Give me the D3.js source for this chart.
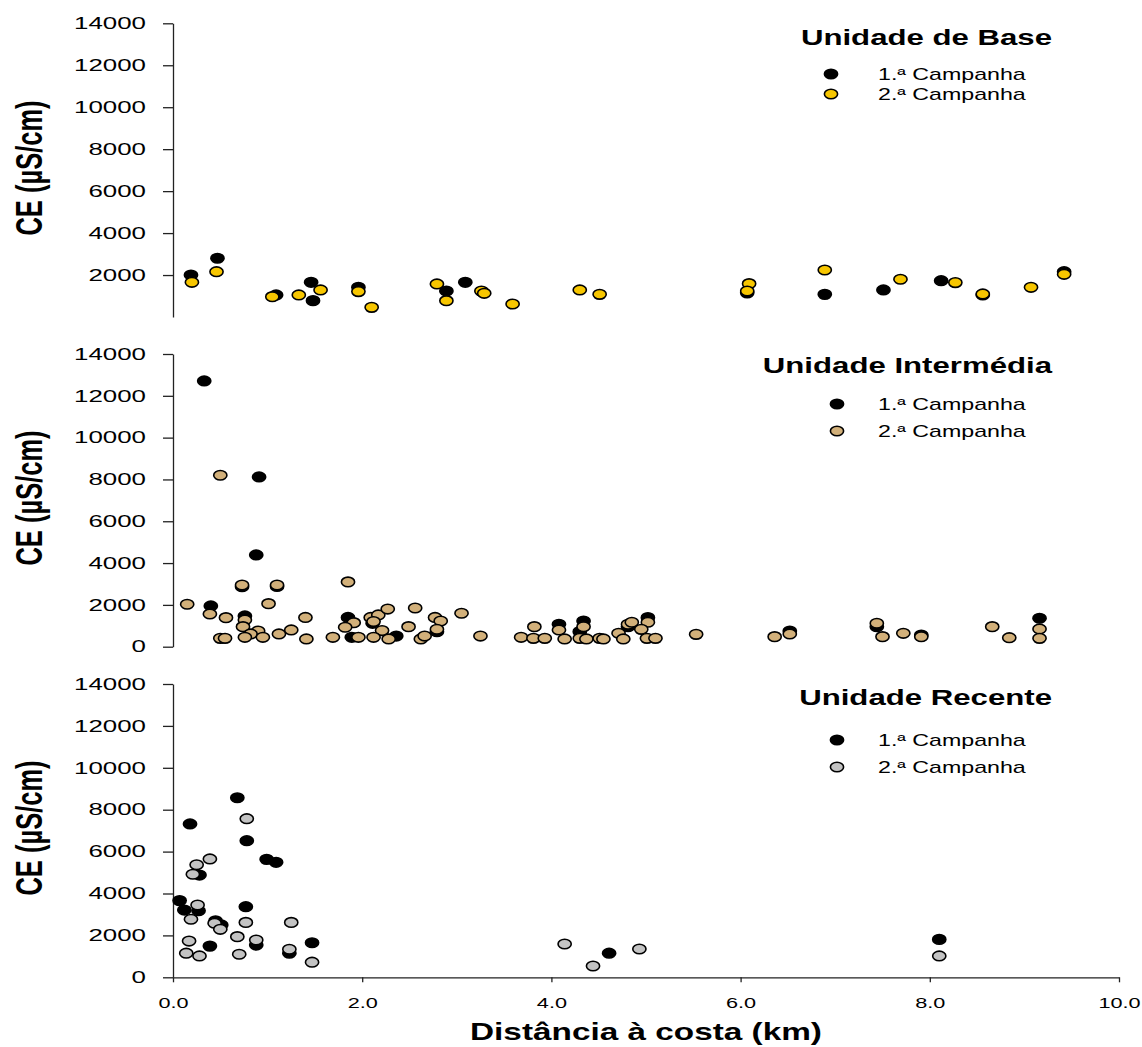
<!DOCTYPE html>
<html>
<head>
<meta charset="utf-8">
<script src="https://cdn.jsdelivr.net/npm/d3@7"></script>
<style>
  body { margin: 0; background: #fff; }
  text { font-family: Arial, "Liberation Sans", sans-serif; fill: #000; }
</style>
</head>
<body>
<svg id="chart" width="1142" height="1047"></svg>
<script>
// Electrical conductivity (µS/cm) against distance to the coast (km), per aquifer unit.
// Each entry: [distance km, CE µS/cm]

// Unidade de Base
const baseCamp1 = [
  [0.19, 2000], [0.47, 2800], [1.09, 1050], [1.46, 1655], [1.48, 780], [1.96, 1415],
  [2.89, 1240], [3.09, 1655], [3.27, 1200], [6.07, 1150], [6.89, 1080], [7.51, 1290],
  [8.12, 1730], [8.56, 1050], [9.42, 2160]
];
const baseCamp2 = [
  [0.20, 1655], [0.46, 2160], [1.05, 970], [1.33, 1050], [1.56, 1290], [1.96, 1210],
  [2.10, 460], [2.79, 1575], [2.89, 780], [3.26, 1240], [3.29, 1130], [3.59, 620],
  [4.30, 1290], [4.51, 1080], [6.09, 1590], [6.07, 1240], [6.89, 2240], [7.69, 1800],
  [8.27, 1640], [8.56, 1100], [9.07, 1415], [9.42, 2035]
];

// Unidade Intermédia
const intermCamp1 = [
  [0.33, 12710], [0.91, 8120], [0.88, 4390], [0.40, 1950], [0.73, 2870], [0.76, 1470],
  [1.10, 2880], [1.85, 1400], [1.89, 450], [2.11, 1120], [2.36, 510], [2.79, 720],
  [4.08, 1070], [4.34, 1230], [4.30, 720], [4.81, 960], [5.02, 1390], [6.52, 750],
  [7.44, 960], [7.91, 560], [9.16, 1360]
];
const intermCamp2 = [
  [0.15, 2030], [0.39, 1565], [0.50, 8200], [0.56, 1390], [0.50, 400], [0.55, 400],
  [0.73, 2950], [0.76, 1280], [0.74, 960], [0.90, 750], [0.82, 610], [0.76, 450],
  [0.95, 450], [1.10, 2950], [1.01, 2060], [1.12, 610], [1.25, 800], [1.40, 1400],
  [1.41, 370], [1.85, 3100], [1.69, 450], [1.91, 1150], [1.82, 930], [1.96, 450],
  [2.09, 1400], [2.17, 1520], [2.27, 1800], [2.12, 1200], [2.21, 770], [2.12, 450],
  [2.28, 370], [2.49, 960], [2.56, 1850], [2.62, 370], [2.66, 510], [2.77, 1400],
  [2.83, 1230], [2.79, 830], [3.05, 1600], [3.25, 510], [3.68, 450], [3.82, 960],
  [3.81, 400], [3.93, 400], [4.08, 800], [4.14, 370], [4.34, 960], [4.30, 400],
  [4.37, 370], [4.51, 400], [4.55, 370], [4.71, 640], [4.76, 370], [4.81, 1070],
  [4.85, 1170], [5.02, 1170], [4.95, 830], [5.01, 400], [5.10, 400], [5.53, 590],
  [6.36, 480], [6.52, 610], [7.44, 1120], [7.50, 480], [7.72, 640], [7.91, 480],
  [8.66, 960], [8.84, 430], [9.16, 850], [9.16, 400]
];

// Unidade Recente
const recCamp1 = [
  [0.68, 8570], [0.18, 7320], [0.78, 6520], [0.99, 5630], [1.09, 5490], [0.28, 4880],
  [0.07, 3660], [0.12, 3210], [0.27, 3180], [0.77, 3370], [0.45, 2700], [0.51, 2500],
  [0.39, 1490], [0.88, 1540], [1.23, 1150], [1.47, 1650], [4.61, 1150], [8.10, 1810]
];
const recCamp2 = [
  [0.78, 7570], [0.39, 5650], [0.25, 5370], [0.21, 4920], [0.26, 3450], [0.19, 2770],
  [0.44, 2580], [0.50, 2290], [0.77, 2620], [1.25, 2620], [0.17, 1730], [0.68, 1940],
  [0.88, 1780], [0.14, 1150], [0.28, 1020], [0.70, 1100], [1.23, 1340], [1.47, 720],
  [4.14, 1590], [4.44, 540], [4.93, 1350], [8.10, 1020]
];

const xTickValues = [0, 2, 4, 6, 8, 10];
const yTickValuesBase = [2000, 4000, 6000, 8000, 10000, 12000, 14000];
const yTickValuesFull = [0, 2000, 4000, 6000, 8000, 10000, 12000, 14000];
const seriesLabels = ["1.ª Campanha", "2.ª Campanha"];
const yAxisTitle = "CE (µS/cm)";
const xAxisTitle = "Distância à costa (km)";

// ---------------------------------------------------------------------------
const svg = d3.select("#chart");
const SX = 1.45;            // horizontal stretch of the lettering
const SX_YTICK = 1.57;
const SX_XTICK = 1.4;
const RX = 6.6, RY = 4.8;   // marker ellipse radii

const x = d3.scaleLinear().domain([0, 10]).range([173, 1119]);

const panels = [
  { title: "Unidade de Base", top: 23.3, bottom: 317, ticks: yTickValuesBase,
    c1: baseCamp1, c2: baseCamp2, fill2: "#F7C600",
    titleY: 45, legX: 831, legY: [74, 94], labelY: 168 },
  { title: "Unidade Intermédia", top: 354, bottom: 646.7, ticks: yTickValuesFull,
    c1: intermCamp1, c2: intermCamp2, fill2: "#D2B07A",
    titleY: 372.7, legX: 837, legY: [404, 431], labelY: 498 },
  { title: "Unidade Recente", top: 684, bottom: 977.3, ticks: yTickValuesFull,
    c1: recCamp1, c2: recCamp2, fill2: "#C3C3C3",
    titleY: 705, legX: 837, legY: [740, 767], labelY: 828, xAxis: true }
];

function stretched(g, px, py, str, size, weight, anchor) {
  return g.append("text")
    .attr("transform", `translate(${px},${py}) scale(${SX},1)`)
    .attr("text-anchor", anchor)
    .style("font-size", size + "px")
    .style("font-weight", weight)
    .text(str);
}

function marker(sel, fill) {
  sel.attr("rx", RX).attr("ry", RY)
    .attr("fill", fill)
    .attr("stroke", "#000")
    .attr("stroke-width", 1.6);
}

panels.forEach(p => {
  const y = d3.scaleLinear().domain([0, 14000]).range([p.bottom, p.top]);
  const g = svg.append("g");

  // y axis
  const yAxis = g.append("g")
    .attr("transform", `translate(${x(0)},0)`)
    .call(d3.axisLeft(y).tickValues(p.ticks).tickSize(10).tickSizeOuter(0).tickPadding(17)
      .tickFormat(d3.format("d")));
  yAxis.select(".domain").attr("stroke", "#222").attr("stroke-width", 1.3);
  yAxis.selectAll(".tick line").attr("stroke", "#222").attr("stroke-width", 1.3);
  yAxis.selectAll(".tick text")
    .attr("x", -27 / SX_YTICK)
    .attr("transform", `scale(${SX_YTICK},1)`)
    .style("font-size", "16.5px")
    .style("font-family", "Arial, 'Liberation Sans', sans-serif")
    .attr("fill", "#000");

  // x axis on the bottom panel
  if (p.xAxis) {
    const xAxis = g.append("g")
      .attr("transform", `translate(0,${p.bottom})`)
      .call(d3.axisBottom(x).tickValues(xTickValues).tickSize(5).tickSizeOuter(0).tickPadding(15)
        .tickFormat(d3.format(".1f")));
    xAxis.select(".domain").attr("stroke", "#222").attr("stroke-width", 1.3);
    xAxis.selectAll(".tick line").attr("stroke", "#222").attr("stroke-width", 1.3);
    xAxis.selectAll(".tick text")
      .attr("transform", `scale(${SX_XTICK},1)`)
      .style("font-size", "15.5px")
      .style("font-family", "Arial, 'Liberation Sans', sans-serif")
      .attr("fill", "#000");
  }

  // y axis title
  g.append("text")
    .attr("transform", `translate(29,${p.labelY}) scale(${SX},1) rotate(-90)`)
    .attr("text-anchor", "middle")
    .attr("dy", "0.36em")
    .style("font-size", "25.5px")
    .style("font-weight", "bold")
    .text(yAxisTitle);

  // points: first campaign underneath, second on top
  g.append("g").selectAll("ellipse").data(p.c1).join("ellipse")
    .attr("cx", d => x(d[0])).attr("cy", d => y(d[1]))
    .call(marker, "#000");
  g.append("g").selectAll("ellipse").data(p.c2).join("ellipse")
    .attr("cx", d => x(d[0])).attr("cy", d => y(d[1]))
    .call(marker, p.fill2);

  // title and legend
  stretched(g, 1052, p.titleY, p.title, 21.5, "bold", "end");
  [["#000", 0], [p.fill2, 1]].forEach(([fill, i]) => {
    g.append("ellipse").attr("cx", p.legX).attr("cy", p.legY[i]).call(marker, fill);
    stretched(g, 878, p.legY[i], seriesLabels[i], 16, "normal", "start").attr("dy", "0.36em");
  });
});

// x axis title
stretched(svg, 646, 1040, xAxisTitle, 23, "bold", "middle");
</script>
</body>
</html>
